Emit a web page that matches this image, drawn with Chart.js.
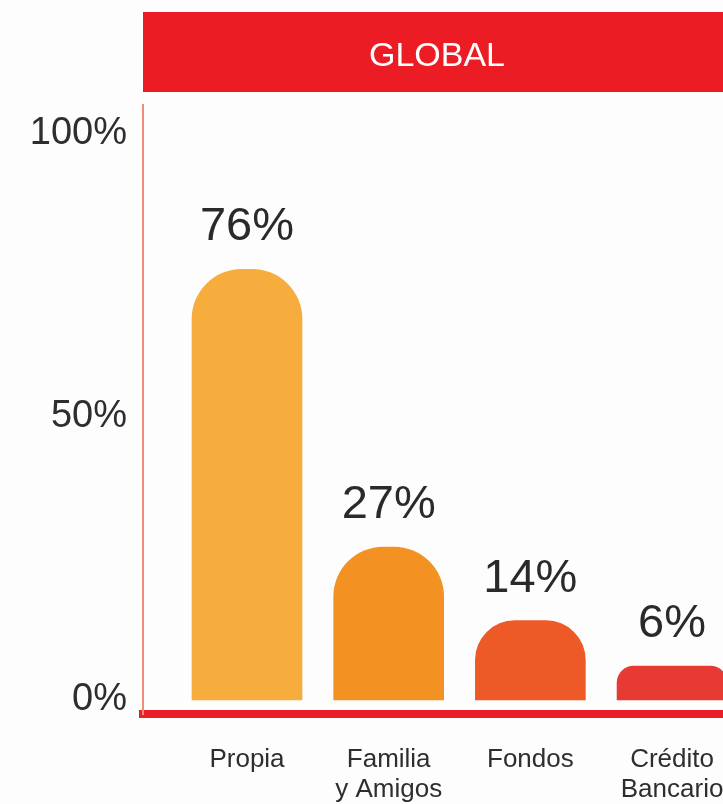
<!DOCTYPE html>
<html lang="es">
<head>
    <meta charset="UTF-8">
    <title>Global</title>
    <style>
        body {
            margin: 0;
            background-color: #fdfdfd;
            overflow: hidden;
        }
        #wrap {
            width: 771px;
            height: 804px;
        }
    </style>
    <script src="https://cdn.jsdelivr.net/npm/chart.js@4"></script>
</head>
<body>
    <div id="wrap"><canvas id="chart" width="771" height="804"></canvas></div>

    <script>
        // chart data
        const categories = [['Propia'], ['Familia', 'y Amigos'], ['Fondos'], ['Crédito', 'Bancario']];
        const values = [76, 27, 14, 6];
        const yTicks = [0, 50, 100];
        const heading = 'GLOBAL';

        const barColors = ['#f7ad3e', '#f39223', '#ed5a28', '#e63a32'];
        const fontFamily = '"Liberation Sans", Arial, sans-serif';

        // red band behind the title
        const headerBand = {
            id: 'headerBand',
            beforeDraw(chart) {
                const t = chart.titleBlock;
                const ctx = chart.ctx;
                ctx.save();
                ctx.fillStyle = '#ec1c24';
                ctx.fillRect(t.left, t.top, chart.width - t.left, 80);
                ctx.restore();
            }
        };

        // percentage above each bar
        const valueLabels = {
            id: 'valueLabels',
            afterDatasetsDraw(chart) {
                const ctx = chart.ctx;
                const meta = chart.getDatasetMeta(0);
                ctx.save();
                ctx.font = '47px ' + fontFamily;
                ctx.fillStyle = '#2a2a2a';
                ctx.textAlign = 'center';
                ctx.textBaseline = 'middle';
                meta.data.forEach((bar, i) => {
                    ctx.fillText(values[i] + '%', bar.x, bar.y - 42);
                });
                ctx.restore();
            }
        };

        const ctx = document.getElementById('chart').getContext('2d');
        new Chart(ctx, {
            type: 'bar',
            data: {
                datasets: [{
                    data: values.map((v, i) => ({ x: i, y: v })),
                    backgroundColor: barColors,
                    barThickness: 110,
                    borderRadius: { topLeft: 50, topRight: 50, bottomLeft: 0, bottomRight: 0 },
                    borderSkipped: 'start'
                }]
            },
            options: {
                responsive: false,
                animation: false,
                layout: {
                    padding: { top: 12, right: 40, bottom: 0, left: 0 }
                },
                plugins: {
                    legend: { display: false },
                    tooltip: { enabled: false },
                    title: {
                        display: true,
                        text: heading,
                        fullSize: false,
                        color: '#ffffff',
                        font: { family: fontFamily, size: 34, weight: 'normal', lineHeight: 1.2 },
                        padding: { top: 24.6, bottom: 27.6 }
                    }
                },
                scales: {
                    x: {
                        type: 'linear',
                        offset: false,
                        bounds: 'data',
                        min: -0.734,
                        max: 3.416,
                        grid: { display: false, drawTicks: false, offset: false },
                        border: { display: true, color: '#e8202a', width: 8 },
                        afterBuildTicks: (scale) => {
                            scale.ticks = categories.map((_, i) => ({ value: i }));
                        },
                        ticks: {
                            autoSkip: false,
                            maxRotation: 0,
                            padding: 31,
                            color: '#2e2e2e',
                            font: { family: fontFamily, size: 26, lineHeight: 1.15 },
                            callback: (v) => categories[v]
                        },
                        afterFit: (scale) => { scale.height = 90; }
                    },
                    y: {
                        min: -2.47,
                        max: 105,
                        grid: { display: false, drawTicks: false },
                        border: { display: true, color: '#f28b78', width: 2 },
                        afterBuildTicks: (scale) => {
                            scale.ticks = yTicks.map(v => ({ value: v }));
                        },
                        ticks: {
                            padding: 16,
                            color: '#2e2e2e',
                            font: { family: fontFamily, size: 38 },
                            callback: (v) => v + '%'
                        },
                        afterFit: (scale) => { scale.width = 143; }
                    }
                }
            },
            plugins: [headerBand, valueLabels]
        });
    </script>
</body>
</html>
